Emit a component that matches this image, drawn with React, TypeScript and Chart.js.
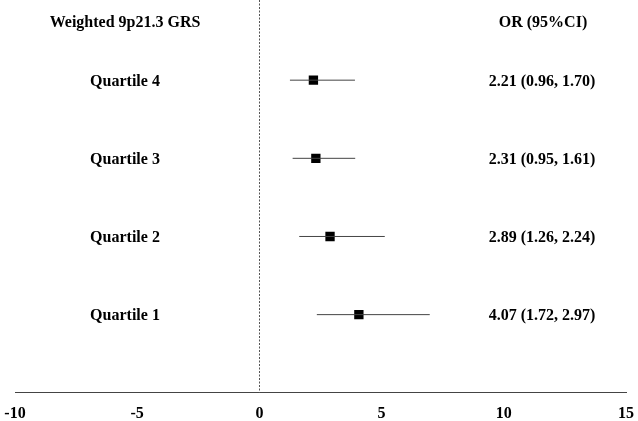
import React, { useEffect, useRef } from "react";
import { Chart, registerables } from "chart.js";

Chart.register(...registerables);

const groups = ["Quartile 4", "Quartile 3", "Quartile 2", "Quartile 1"];
const rows = [4, 3, 2, 1];
const orValues = [2.21, 2.31, 2.89, 4.07];
const ciLower = [1.25, 1.36, 1.63, 2.35];
const ciUpper = [3.91, 3.92, 5.13, 6.97];
const orLabels = ["2.21 (0.96, 1.70)", "2.31 (0.95, 1.61)", "2.89 (1.26, 2.24)", "4.07 (1.72, 2.97)"];
const xMin = -10;
const xMax = 15;
const xStep = 5;
const leftHeader = "Weighted 9p21.3 GRS";
const rightHeader = "OR (95%CI)";

const FONT = "'Liberation Serif', 'Times New Roman', serif";

const forestPlugin = {
  id: "forestText",
  beforeDatasetsDraw(chart: any) {
    const { ctx, chartArea, scales } = chart;
    const x0 = scales.x.getPixelForValue(0);
    ctx.save();
    ctx.strokeStyle = "#555";
    ctx.lineWidth = 1;
    ctx.setLineDash([2, 1.5]);
    ctx.beginPath();
    ctx.moveTo(Math.round(x0) + 0.5, 0);
    ctx.lineTo(Math.round(x0) + 0.5, chartArea.bottom);
    ctx.stroke();
    ctx.restore();
  },
  afterDraw(chart: any) {
    const { ctx, scales } = chart;
    ctx.save();
    ctx.fillStyle = "#000";
    ctx.font = `bold 16px ${FONT}`;
    ctx.textAlign = "center";
    ctx.textBaseline = "middle";
    ctx.fillText(leftHeader, 125, 23);
    ctx.fillText(rightHeader, 543, 23);
    groups.forEach((g, i) => {
      const y = scales.y.getPixelForValue(rows[i]);
      ctx.fillText(g, 125, y + 1.5);
      ctx.fillText(orLabels[i], 542, y + 1.5);
    });
    ctx.restore();
  },
};

export default function App() {
  const canvasRef = useRef<HTMLCanvasElement | null>(null);

  useEffect(() => {
    document.body.style.margin = "0";
    const canvas = canvasRef.current;
    if (!canvas) return;

    const ciDatasets = groups.map((g, i) => ({
      type: "scatter" as const,
      label: g + " CI",
      data: [
        { x: ciLower[i], y: rows[i] },
        { x: ciUpper[i], y: rows[i] },
      ],
      showLine: true,
      borderColor: "#444",
      borderWidth: 1,
      pointRadius: 0,
    }));

    const chart = new Chart(canvas, {
      type: "scatter",
      data: {
        datasets: [
          ...ciDatasets,
          {
            type: "scatter",
            label: "OR",
            data: orValues.map((v, i) => ({ x: v, y: rows[i] })),
            pointStyle: "rect",
            pointRadius: 6.6,
            pointBorderWidth: 0,
            borderWidth: 0,
            backgroundColor: "#000",
            pointBackgroundColor: "#000",
          },
        ],
      },
      options: {
        animation: false,
        responsive: false,
        maintainAspectRatio: false,
        layout: { autoPadding: false, padding: { left: 15, right: 12, top: 2, bottom: 0 } },
        plugins: { legend: { display: false }, tooltip: { enabled: false } },
        scales: {
          x: {
            type: "linear",
            min: xMin,
            max: xMax,
            ticks: {
              stepSize: xStep,
              color: "#000",
              font: { family: FONT, size: 16, weight: "bold" },
              padding: 0,
            },
            grid: {
              display: true,
              drawOnChartArea: false,
              drawTicks: true,
              tickLength: 11,
              tickColor: "rgba(0,0,0,0)",
              color: "rgba(0,0,0,0)",
            },
            border: { display: true, color: "#444", width: 1 },
          },
          y: {
            type: "linear",
            min: 0,
            max: 5,
            display: false,
          },
        },
      },
      plugins: [forestPlugin],
    });

    return () => chart.destroy();
  }, []);

  return (
    <div style={{ width: 638, height: 421, position: "relative", overflow: "hidden" }}>
      <canvas ref={canvasRef} width={638} height={423} style={{ display: "block" }} />
    </div>
  );
}
